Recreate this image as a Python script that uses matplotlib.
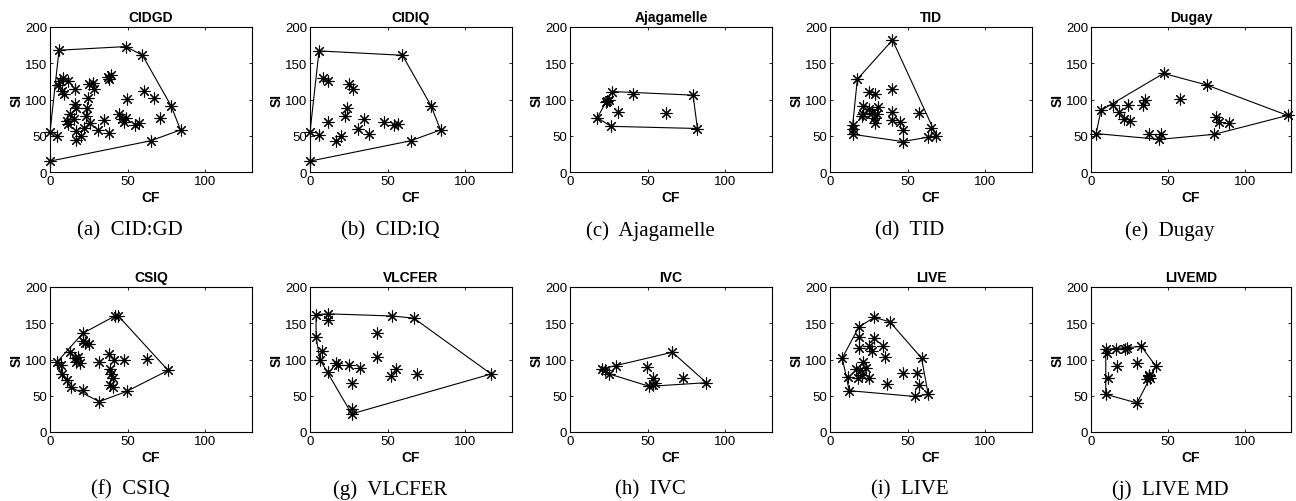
import numpy as np
import matplotlib
matplotlib.use('Agg')
import matplotlib.pyplot as plt

# valeurs (CF, SI) pour chaque base
titres = ['CIDGD', 'CIDIQ', 'Ajagamelle', 'TID', 'Dugay',
          'CSIQ', 'VLCFER', 'IVC', 'LIVE', 'LIVEMD']
legendes = ['(a)  CID:GD', '(b)  CID:IQ', '(c)  Ajagamelle', '(d)  TID', '(e)  Dugay',
            '(f)  CSIQ', '(g)  VLCFER', '(h)  IVC', '(i)  LIVE', '(j)  LIVE MD']

cf_cidgd = [0, 5.8, 48.8, 59.5, 78, 84, 64.7, 0, 4.7, 4.9, 6.4, 8.6, 7.5, 9.2, 11.8, 15.8,
            10.7, 12.8, 11.8, 16, 17, 15.4, 16.7, 16.7, 19.9, 21.8, 23, 24, 24.6, 25.3, 27.8, 28.5,
            25.7, 31, 35, 38, 37.5, 39, 38, 44.5, 46.5, 47.5, 49, 49.7, 54.6, 57.4, 60.4, 66.8, 71]
si_cidgd = [15, 168, 173, 161, 91, 58, 43, 55, 50, 120, 126, 129, 112, 108, 126, 115,
            71, 80, 66, 94, 88, 73, 57, 44, 50, 61, 77, 88, 102, 121, 123, 114,
            68, 58, 72, 54, 131, 134, 128, 80, 73, 69, 75, 101, 65, 67, 112, 102, 74]

cf_cidiq = [0, 5.8, 59.5, 78, 84, 64.7, 0, 5.8, 8.6, 11.8, 11.8, 16.7, 19.9, 22.5, 24,
            25.3, 27.8, 31, 35, 38, 47.5, 54, 56.8]
si_cidiq = [15, 167, 161, 91, 58, 43, 55, 51, 130, 126, 69, 43, 50, 77, 88,
            122, 114, 59, 73, 53, 69, 65, 66]

cf_aja = [17.6, 23.2, 25.3, 27, 40.7, 79.2, 82, 26.3, 31, 61.5, 24]
si_aja = [75, 96, 100, 111, 108, 106, 60, 63, 83, 81, 98]

cf_tid = [40.2, 17.6, 14.6, 14.6, 46.7, 63.2, 68.5, 65.3, 14.6, 21, 21.4, 25.3, 28.9, 24.9, 27, 28,
          29, 30, 31, 20.3, 39.6, 39.6, 40.2, 45, 46.7, 57.4]
si_tid = [182, 128, 65, 52, 42, 48, 50, 61, 59, 80, 91, 110, 107, 87, 82, 75,
          68, 80, 89, 77, 114, 83, 72, 69, 58, 82]

cf_dugay = [3.3, 6.5, 14, 47.2, 75.2, 127.8, 80.2, 44.4, 37.9, 18.4, 21.7, 23.8, 25.6, 34, 35.3,
            45.5, 57.9, 81.3, 83.4, 89.9]
si_dugay = [53, 85, 93, 136, 120, 78, 52, 45, 53, 83, 73, 93, 70, 93, 100,
            53, 101, 76, 69, 67]

cf_csiq = [4.3, 21, 41.8, 44, 76, 49.3, 31.7, 21, 13.3, 7.5, 6.9, 10.7, 12.8, 16, 17, 18.2, 19.3,
           22.5, 25.3, 21.4, 31.3, 38.2, 41.5, 47.5, 38.8, 39.5, 40.3, 38.8, 40.5, 62.7]
si_csiq = [96, 136, 160, 160, 85, 56, 42, 58, 62, 80, 93, 72, 111, 102, 97, 104, 95,
           123, 122, 125, 97, 107, 99, 100, 87, 80, 74, 65, 62, 101]

cf_vlcfer = [3.9, 11.8, 66.8, 116.6, 26.8, 11.8, 6.4, 3.9, 11.8, 7.5, 16.7, 18.2, 25.3, 32.1,
             26.8, 26.8, 42.8, 42.8, 53, 52.4, 55.2, 68.9]
si_vlcfer = [162, 163, 157, 80, 25, 83, 100, 131, 155, 112, 95, 93, 92, 88,
             67, 32, 136, 104, 160, 77, 87, 80]

cf_ivc = [20.3, 25.3, 29.9, 65.9, 87.8, 53.5, 51, 22.5, 49.3, 53.5, 55, 72.8]
si_ivc = [87, 80, 91, 110, 68, 65, 63, 85, 89, 74, 67, 74]

cf_live = [7.9, 18.6, 28.5, 38.5, 58.9, 63.2, 54.6, 12.4, 11.3, 18.6, 18.6, 25.3, 28.5, 26.8,
           34.3, 35.3, 21, 17, 19.3, 23.2, 20.3, 17.8, 24.9, 36.4, 47.1, 56, 57.3]
si_live = [102, 145, 158, 152, 102, 52, 49, 57, 76, 131, 116, 119, 130, 112,
           118, 103, 96, 87, 85, 88, 78, 75, 75, 66, 82, 82, 65]

cf_livemd = [9.6, 9.6, 23.5, 32.7, 42.1, 37.8, 29.9, 10.7, 11.3, 16, 16.7, 22, 29.9, 37.4, 38.5, 36.3]
si_livemd = [52, 114, 116, 118, 91, 77, 40, 109, 75, 115, 91, 114, 95, 78, 75, 73]

donnees = [(cf_cidgd, si_cidgd), (cf_cidiq, si_cidiq), (cf_aja, si_aja), (cf_tid, si_tid),
           (cf_dugay, si_dugay), (cf_csiq, si_csiq), (cf_vlcfer, si_vlcfer), (cf_ivc, si_ivc),
           (cf_live, si_live), (cf_livemd, si_livemd)]


def enveloppe(x, y):
    # enveloppe convexe (monotone chain)
    pts = sorted(set(zip(x, y)))

    def cross(o, a, b):
        return (a[0] - o[0]) * (b[1] - o[1]) - (a[1] - o[1]) * (b[0] - o[0])

    bas, haut = [], []
    for p in pts:
        while len(bas) >= 2 and cross(bas[-2], bas[-1], p) <= 0:
            bas.pop()
        bas.append(p)
    for p in reversed(pts):
        while len(haut) >= 2 and cross(haut[-2], haut[-1], p) <= 0:
            haut.pop()
        haut.append(p)
    h = bas[:-1] + haut[:-1]
    h.append(h[0])
    return np.array(h)


W, H = 1296, 502
fig = plt.figure(figsize=(W / 100, H / 100), dpi=100)
plt.rcParams['font.family'] = ['Liberation Sans', 'DejaVu Sans']

lefts = [50, 310, 570, 830, 1091]
tops = [28, 288]
aw, ah = 202, 145

for i, (cf, si) in enumerate(donnees):
    ligne, col = divmod(i, 5)
    l = lefts[col]
    t = tops[ligne]
    w = 200 if col == 4 else aw
    ax = fig.add_axes([l / W, 1 - (t + ah) / H, w / W, ah / H])
    h = enveloppe(cf, si)
    ax.plot(h[:, 0], h[:, 1], color='black', linewidth=0.8)
    ax.plot(cf, si, linestyle='none', marker=(8, 2, 0), markersize=8.5,
            markeredgewidth=0.8, color='black', clip_on=False)
    ax.set_xlim(0, 130)
    ax.set_ylim(0, 200)
    ax.set_xticks([0, 50, 100])
    ax.set_yticks([0, 50, 100, 150, 200])
    ax.tick_params(direction='in', length=2.5, width=0.6, labelsize=9.5,
                   top=True, right=True, pad=2)
    for s in ax.spines.values():
        s.set_linewidth(0.8)
    ax.set_title(titres[i], fontsize=10, fontweight='bold', pad=4)
    ax.set_xlabel('CF', fontsize=10, fontweight='bold', labelpad=2)
    ax.set_ylabel('SI', fontsize=10, fontweight='bold', labelpad=1)
    cy = 231 if ligne == 0 else 490
    fig.text((l + w / 2 - 21) / W, 1 - cy / H, legendes[i], ha='center', va='center',
             fontsize=15, family=['Liberation Serif', 'DejaVu Serif'])

plt.savefig('out.png', dpi=100)
